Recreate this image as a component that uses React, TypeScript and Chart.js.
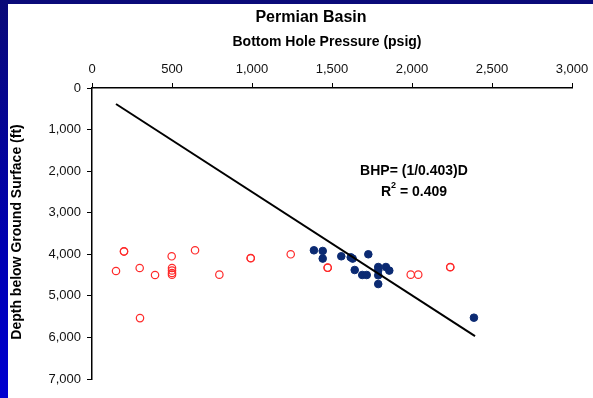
import React, { useEffect, useRef } from "react";
import { Chart, registerables } from "chart.js";

Chart.register(...registerables);

const xTicksMin = 0;
const xTicksMax = 3000;
const xStep = 500;
const yTicksMin = 0;
const yTicksMax = 7000;
const yStep = 1000;

// Blue filled wells (BHP psig, depth ft)
const bluePsi = [1387, 1442, 1442, 1558, 1617, 1629, 1727, 1642, 1689, 1717, 1789, 1789, 1789, 1789, 1837, 1858, 2387];
const blueDepth = [3904, 3920, 4104, 4048, 4072, 4104, 4000, 4378, 4498, 4498, 4306, 4386, 4506, 4716, 4306, 4393, 5525];

// Red open-circle wells
const redPsi = [200, 200, 150, 298, 394, 498, 500, 500, 500, 500, 644, 796, 992, 992, 1242, 300, 1473, 1473, 1992, 2039, 2239, 2239];
const redDepth = [3928, 3935, 4402, 4330, 4498, 4048, 4330, 4390, 4450, 4490, 3904, 4490, 4090, 4095, 4000, 5535, 4320, 4325, 4490, 4490, 4306, 4312];

// Regression line end points
const linePsi = [150, 2394];
const lineDepth = [385, 5969];

const titleText = "Permian Basin";
const xTitleText = "Bottom Hole Pressure (psig)";
const yTitleText = "Depth below Ground Surface (ft)";
const eqText = "BHP= (1/0.403)D";
const r2Value = "0.409";

const FONT = "'Liberation Sans', Arial, Helvetica, sans-serif";

const textPlugin = {
  id: "texts",
  afterDraw(chart: any) {
    const ctx = chart.ctx as CanvasRenderingContext2D;
    ctx.save();
    ctx.fillStyle = "#000";
    ctx.textAlign = "center";
    ctx.textBaseline = "middle";
    ctx.font = `bold 16px ${FONT}`;
    ctx.fillText(titleText, 311, 18);
    ctx.font = `bold 14px ${FONT}`;
    ctx.fillText(xTitleText, 327, 42);

    ctx.save();
    ctx.translate(17, 232);
    ctx.rotate(-Math.PI / 2);
    ctx.font = `bold 14px ${FONT}`;
    ctx.fillText(yTitleText, 0, 0);
    ctx.restore();

    ctx.font = `bold 14px ${FONT}`;
    ctx.fillText(eqText, 414, 171);

    // R^2 = 0.409 with superscript
    const rest = " = " + r2Value;
    ctx.font = `bold 14px ${FONT}`;
    const wR = ctx.measureText("R").width;
    const wRest = ctx.measureText(rest).width;
    ctx.font = `bold 9px ${FONT}`;
    const w2 = ctx.measureText("2").width;
    const total = wR + w2 + wRest;
    let x = 414 - total / 2;
    ctx.textAlign = "left";
    ctx.font = `bold 14px ${FONT}`;
    ctx.fillText("R", x, 192);
    x += wR;
    ctx.font = `bold 9px ${FONT}`;
    ctx.fillText("2", x, 186);
    x += w2;
    ctx.font = `bold 14px ${FONT}`;
    ctx.fillText(rest, x, 192);
    ctx.restore();
  },
};

export default function App() {
  const ref = useRef<HTMLCanvasElement | null>(null);

  useEffect(() => {
    document.body.style.margin = "0";
    if (!ref.current) return;
    const blue = bluePsi.map((p, i) => ({ x: p, y: blueDepth[i] }));
    const red = redPsi.map((p, i) => ({ x: p, y: redDepth[i] }));
    const line = linePsi.map((p, i) => ({ x: p, y: lineDepth[i] }));

    const chart = new Chart(ref.current, {
      type: "scatter",
      data: {
        datasets: [
          {
            type: "line",
            label: "fit",
            data: line,
            borderColor: "#000",
            borderWidth: 2,
            pointRadius: 0,
            showLine: true,
            fill: false,
          } as any,
          {
            label: "blue",
            data: blue,
            backgroundColor: "#0b2a72",
            borderColor: "#0b2a72",
            borderWidth: 1,
            pointRadius: 3.8,
          },
          {
            label: "red",
            data: red,
            backgroundColor: "rgba(255,255,255,0)",
            borderColor: "#ff2a2a",
            borderWidth: 1.2,
            pointRadius: 3.7,
          },
        ],
      },
      options: {
        animation: false,
        responsive: false,
        maintainAspectRatio: false,
        events: [],
        layout: { padding: { left: 0, top: 0, right: 21, bottom: 19 } },
        plugins: {
          legend: { display: false },
          tooltip: { enabled: false },
          title: { display: false },
        },
        scales: {
          x: {
            type: "linear",
            position: "top",
            min: xTicksMin,
            max: xTicksMax,
            afterFit: (s: any) => {
              s.height = 88;
              s.paddingLeft = 0;
              s.paddingRight = 0;
            },
            ticks: {
              stepSize: xStep,
              color: "#111",
              padding: 6,
              font: { family: FONT, size: 13 },
              callback: (v: any) => Number(v).toLocaleString("en-US"),
            },
            grid: {
              display: true,
              drawOnChartArea: false,
              drawTicks: true,
              tickLength: 5,
              tickColor: "#000",
              tickWidth: 1,
            },
            border: { display: true, color: "#000", width: 1.5 },
          },
          y: {
            type: "linear",
            reverse: true,
            min: yTicksMin,
            max: yTicksMax,
            afterFit: (s: any) => {
              s.width = 92;
              s.paddingTop = 0;
              s.paddingBottom = 0;
            },
            ticks: {
              stepSize: yStep,
              color: "#111",
              padding: 6,
              font: { family: FONT, size: 13 },
              callback: (v: any) => Number(v).toLocaleString("en-US"),
            },
            grid: {
              display: true,
              drawOnChartArea: false,
              drawTicks: true,
              tickLength: 5,
              tickColor: "#000",
              tickWidth: 1,
            },
            border: { display: true, color: "#000", width: 1.5 },
          },
        },
      },
      plugins: [textPlugin],
    });
    return () => chart.destroy();
  }, []);

  return (
    <div
      style={{
        position: "fixed",
        left: 0,
        top: 0,
        width: 593,
        height: 398,
        background: "linear-gradient(to bottom, #0a0a78 0%, #0000b0 60%, #0000d0 100%)",
        overflow: "hidden",
      }}
    >
      <div
        style={{
          position: "absolute",
          left: 8,
          top: 4,
          width: 585,
          height: 394,
          background: "#fff",
        }}
      />
      <canvas
        ref={ref}
        width={593}
        height={398}
        style={{ position: "absolute", left: 0, top: 0, width: 593, height: 398 }}
      />
    </div>
  );
}
